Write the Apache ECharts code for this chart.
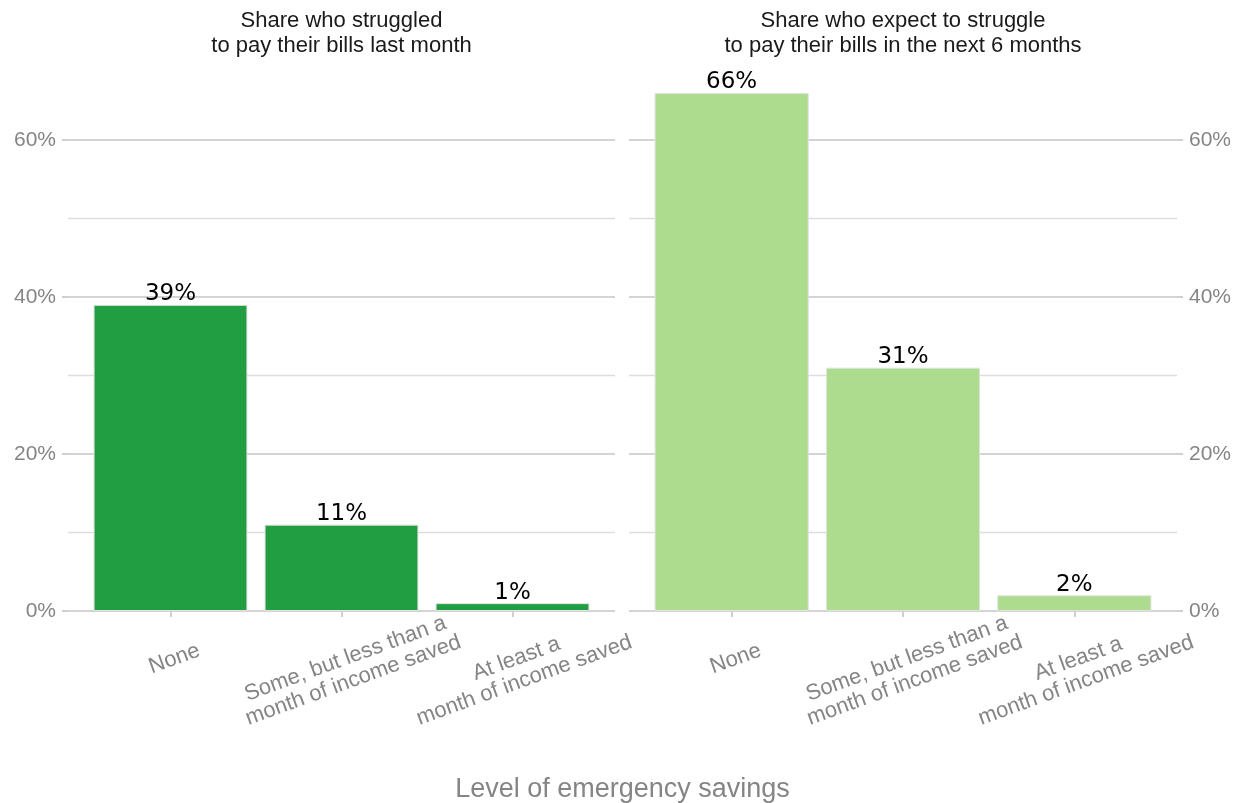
<!DOCTYPE html>
<html>
<head>
<meta charset="utf-8">
<script src="https://cdn.jsdelivr.net/npm/echarts@6/dist/echarts.min.js"></script>
<style>
  html, body { margin: 0; padding: 0; background: #ffffff; }
  #chart1 { width: 1241px; height: 803px; }
</style>
</head>
<body>
<div id="chart1"></div>
<script>
// data
const categories = ['None', 'Some, but less than a\nmonth of income saved', 'At least a\nmonth of income saved']
const lastMonth = [39, 11, 1]
const nextSixMonths = [66, 31, 2]
const yTicks = [0, 20, 40, 60]
const yMinorTicks = [10, 30, 50]
const panelTitles = ['Share who struggled\nto pay their bills last month', 'Share who expect to struggle\nto pay their bills in the next 6 months']
const xTitle = 'Level of emergency savings'

const yMax = 69.3
const axisGray = '#858585'
const gridMajor = '#d4d4d4'
const gridMinor = '#dddddd'

const chart1 = echarts.init(document.getElementById('chart1'))

// background grid (gridlines) + bar grid for each panel
const grids = [
    { left: 68, width: 547, top: 67, height: 544 },
    { left: 85, width: 513, top: 67, height: 544 },
    { left: 629, width: 548, top: 67, height: 544 },
    { left: 646, width: 514, top: 67, height: 544 }
].map(g => Object.assign({ outerBoundsMode: 'none', containLabel: false }, g))

function majorY (gridIndex, position) {
    return {
        type: 'value', gridIndex: gridIndex, position: position,
        min: 0, max: yMax, interval: 20,
        axisLine: { show: false },
        axisTick: { show: true, length: 6, customValues: yTicks, lineStyle: { color: '#cfcfcf', width: 2 } },
        axisLabel: {
            show: true, customValues: yTicks, margin: 12,
            color: axisGray, fontSize: 21, fontFamily: 'Liberation Sans',
            formatter: v => v + '%'
        },
        splitLine: { show: true, lineStyle: { color: gridMajor, width: 2.2 } }
    }
}
function minorY (gridIndex) {
    return {
        type: 'value', gridIndex: gridIndex,
        min: 0, max: yMax, interval: 10,
        axisLine: { show: false },
        axisTick: { show: false, customValues: yMinorTicks },
        axisLabel: { show: false, customValues: yMinorTicks },
        splitLine: { show: true, lineStyle: { color: gridMinor, width: 1.3 } }
    }
}
function barY (gridIndex) {
    return {
        type: 'value', gridIndex: gridIndex, min: 0, max: yMax,
        axisLine: { show: false }, axisTick: { show: false }, axisLabel: { show: false }, splitLine: { show: false }
    }
}
function bgX (gridIndex) {
    return { type: 'value', gridIndex: gridIndex, min: 0, max: 1, show: false }
}
function catX (gridIndex) {
    return {
        type: 'category', gridIndex: gridIndex, data: categories,
        offset: 25,
        axisLine: { show: false },
        axisTick: { show: true, alignWithLabel: true, length: 6, lineStyle: { color: '#cfcfcf', width: 2 } },
        axisLabel: {
            interval: 0, rotate: 20, align: 'center', verticalAlign: 'top', margin: 12,
            color: axisGray, fontSize: 22, lineHeight: 23, fontFamily: 'Liberation Sans',
            hideOverlap: false
        },
        splitLine: { show: false }
    }
}

function barSeries (xi, yi, data, color) {
    return {
        type: 'bar', xAxisIndex: xi, yAxisIndex: yi, data: data,
        barCategoryGap: '10%',
        itemStyle: { color: color, borderColor: '#e2e2e2', borderWidth: 1 },
        label: {
            show: true, position: 'top', distance: -1,
            color: '#000000', fontSize: 23, lineHeight: 23, fontFamily: 'DejaVu Sans',
            formatter: p => p.value + '%'
        }
    }
}

const option = {
    animation: false,
    backgroundColor: '#ffffff',
    title: [
        {
            text: panelTitles[0], left: 341.5, top: 8, textAlign: 'center', padding: 0,
            textStyle: { fontSize: 22, lineHeight: 25, fontWeight: 'normal', color: '#1a1a1a', fontFamily: 'Liberation Sans' }
        },
        {
            text: panelTitles[1], left: 903, top: 8, textAlign: 'center', padding: 0,
            textStyle: { fontSize: 22, lineHeight: 25, fontWeight: 'normal', color: '#1a1a1a', fontFamily: 'Liberation Sans' }
        },
        {
            text: xTitle, left: 622.5, top: 775, textAlign: 'center', padding: 0,
            textStyle: { fontSize: 27, lineHeight: 30, fontWeight: 'normal', color: axisGray, fontFamily: 'Liberation Sans' }
        }
    ],
    grid: grids,
    xAxis: [bgX(0), catX(1), bgX(2), catX(3)],
    yAxis: [minorY(0), majorY(0, 'left'), barY(1), minorY(2), majorY(2, 'right'), barY(3)],
    series: [
        barSeries(1, 2, lastMonth, '#209e41'),
        barSeries(3, 5, nextSixMonths, '#addc8f')
    ]
}
chart1.setOption(option)
</script>
</body>
</html>
